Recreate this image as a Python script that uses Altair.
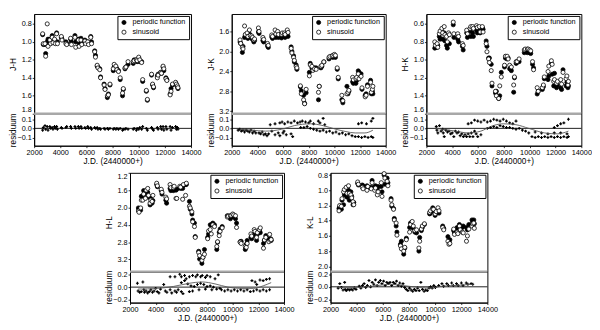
import altair as alt
import pandas as pd

# ---------------- data ----------------
jd = [2650, 2700, 2830, 2880, 3000, 3060, 3200, 3260, 3380, 3440,
      3560, 3620, 3720, 3780, 4080, 4130, 4430, 4490, 4790, 4850,
      5120, 5180, 5380, 5440, 5580, 5640, 5880, 5940, 6100, 6160,
      6330, 6390, 6630, 6690, 6820, 6880, 7020, 7080, 7350, 7420,
      7600, 7680, 7800, 8050, 8120, 8250, 8330, 8450, 8580, 8760,
      8820, 8950, 9020, 9180, 9580, 9650, 9820, 9880, 10000, 10080,
      10220, 10300, 10580, 10660, 10980, 11060, 11130, 11420, 11480, 11680,
      11740, 11860, 11920, 12080, 12150, 12400, 12470, 12580, 12820, 12880,
      12960, 13000]

jh_per = [0.92, 1.03, 1.03, 1.13, 1.00, 0.97, 0.97, 1.00, 0.93, 0.99,
          0.98, 1.00, 0.90, 1.00, 0.95, 0.97, 1.00, 1.02, 0.97, 1.00,
          0.93, 1.00, 0.97, 1.02, 0.96, 1.00, 0.98, 1.00, 1.00, 1.02,
          0.94, 1.00, 1.10, 1.15, 1.27, 1.28, 1.30, 1.39, 1.47, 1.52,
          1.62, 1.58, 1.48, 1.32, 1.28, 1.28, 1.30, 1.32, 1.42, 1.60,
          1.53, 1.30, 1.28, 1.25, 1.24, 1.20, 1.20, 1.22, 1.18, 1.22,
          1.22, 1.44, 1.55, 1.65, 1.37, 1.48, 1.51, 1.38, 1.36, 1.34,
          1.35, 1.28, 1.32, 1.40, 1.42, 1.58, 1.52, 1.48, 1.46, 1.48,
          1.50, 1.52]
jh_sin = [0.91, 1.02, 1.02, 1.16, 0.80, 1.05, 0.98, 1.02, 0.95, 1.01,
          0.97, 1.02, 0.91, 1.02, 0.94, 0.98, 1.02, 1.03, 0.96, 1.03,
          0.95, 1.06, 0.98, 1.05, 0.98, 1.03, 0.99, 1.02, 1.00, 1.03,
          0.95, 1.02, 1.11, 1.17, 1.26, 1.29, 1.31, 1.40, 1.48, 1.53,
          1.60, 1.59, 1.47, 1.30, 1.25, 1.27, 1.31, 1.33, 1.40, 1.57,
          1.52, 1.29, 1.28, 1.22, 1.22, 1.21, 1.20, 1.21, 1.17, 1.20,
          1.23, 1.42, 1.54, 1.64, 1.36, 1.47, 1.50, 1.40, 1.37, 1.34,
          1.35, 1.27, 1.30, 1.41, 1.43, 1.59, 1.55, 1.47, 1.45, 1.47,
          1.49, 1.51]

jk_per = [1.81, 1.84, 2.02, 1.90, 1.72, 1.68, 1.69, 1.74, 1.65, 1.70,
          1.73, 1.76, 1.81, 1.78, 1.61, 1.64, 1.78, 1.81, 1.89, 1.92,
          1.71, 1.74, 1.69, 1.72, 1.69, 1.72, 1.73, 1.70, 1.69, 1.72,
          1.67, 1.70, 1.91, 2.00, 2.09, 2.21, 2.27, 2.36, 2.71, 2.79,
          2.88, 3.04, 2.83, 2.42, 2.24, 2.33, 2.36, 2.33, 2.33, 2.97,
          2.70, 2.33, 2.30, 2.21, 2.15, 2.12, 2.10, 2.12, 2.09, 2.12,
          2.36, 2.55, 2.97, 3.03, 2.70, 2.85, 2.80, 2.61, 2.64, 2.64,
          2.58, 2.39, 2.42, 2.45, 2.76, 2.88, 2.85, 2.67, 2.58, 2.85,
          2.80, 2.85]
jk_sin = [1.77, 1.84, 1.92, 1.95, 1.49, 1.66, 1.63, 1.70, 1.57, 1.68,
          1.69, 1.72, 1.77, 1.75, 1.53, 1.60, 1.72, 1.76, 1.84, 1.88,
          1.67, 1.70, 1.57, 1.65, 1.60, 1.66, 1.66, 1.63, 1.63, 1.66,
          1.57, 1.62, 1.94, 2.03, 2.12, 2.18, 2.30, 2.33, 2.69, 2.85,
          2.97, 3.05, 2.76, 2.49, 2.27, 2.30, 2.38, 2.35, 2.36, 2.82,
          2.70, 2.30, 2.28, 2.21, 2.12, 2.10, 2.09, 2.08, 2.06, 2.08,
          2.33, 2.52, 2.88, 2.99, 2.85, 2.82, 2.78, 2.52, 2.57, 2.55,
          2.52, 2.45, 2.55, 2.50, 2.73, 2.91, 2.88, 2.70, 2.62, 2.82,
          2.76, 2.70]

hk_per = [0.87, 0.86, 0.86, 0.84, 0.74, 0.77, 0.69, 0.77, 0.70, 0.79,
          0.84, 0.87, 0.72, 0.82, 0.61, 0.75, 0.77, 0.80, 0.85, 0.89,
          0.70, 0.75, 0.68, 0.74, 0.70, 0.74, 0.67, 0.70, 0.68, 0.70,
          0.64, 0.66, 0.79, 0.85, 0.98, 0.98, 1.05, 1.29, 1.37, 1.35,
          1.43, 1.40, 1.14, 1.08, 0.98, 0.99, 0.98, 1.10, 1.12, 1.36,
          1.20, 1.04, 1.03, 1.02, 0.92, 0.90, 0.92, 0.90, 0.92, 0.93,
          1.05, 1.09, 1.38, 1.35, 1.33, 1.30, 1.21, 1.22, 1.18, 1.04,
          1.16, 1.29, 1.15, 1.31, 1.28, 1.31, 1.33, 1.11, 1.29, 1.25,
          1.31, 1.29]
hk_sin = [0.80, 0.84, 0.82, 0.86, 0.71, 0.68, 0.65, 0.70, 0.63, 0.72,
          0.74, 0.80, 0.70, 0.72, 0.58, 0.71, 0.71, 0.74, 0.82, 0.84,
          0.67, 0.71, 0.65, 0.63, 0.63, 0.65, 0.62, 0.64, 0.63, 0.69,
          0.63, 0.69, 0.82, 0.91, 0.99, 1.03, 1.12, 1.26, 1.35, 1.40,
          1.43, 1.29, 1.19, 1.06, 0.96, 0.96, 0.99, 1.06, 1.08, 1.28,
          1.19, 1.02, 1.02, 0.99, 0.89, 0.88, 0.88, 0.88, 0.89, 0.90,
          1.02, 1.11, 1.31, 1.35, 1.31, 1.28, 1.19, 1.13, 1.07, 1.01,
          1.05, 1.24, 1.22, 1.26, 1.24, 1.22, 1.27, 1.14, 1.21, 1.18,
          1.28, 1.24]

hl_per = [2.01, 2.04, 2.06, 1.74, 1.74, 1.61, 1.69, 1.69, 1.65, 1.76,
          1.94, 1.79, 1.90, 1.84, 1.47, 1.52, 1.61, 1.69, 1.83, 1.90,
          1.56, 1.61, 1.61, 1.58, 1.60, 1.58, 1.54, 1.56, 1.56, 1.49,
          1.47, 1.47, 1.86, 2.04, 2.15, 2.29, 2.36, 2.67, 3.01, 3.19,
          3.29, 3.15, 2.97, 2.69, 2.61, 2.40, 2.40, 2.36, 2.40, 2.97,
          2.80, 2.57, 2.50, 2.44, 2.19, 2.20, 2.26, 2.22, 2.19, 2.22,
          2.26, 2.36, 2.79, 2.78, 2.97, 2.85, 2.76, 2.69, 2.72, 2.61,
          2.65, 2.76, 2.62, 2.54, 2.58, 2.83, 2.76, 2.65, 2.72, 2.75,
          2.72, 2.76]
hl_sin = [2.08, 2.11, 2.01, 1.83, 1.83, 1.69, 1.79, 1.60, 1.56, 1.72,
          1.90, 1.83, 1.86, 1.72, 1.44, 1.50, 1.58, 1.65, 1.76, 1.80,
          1.47, 1.54, 1.54, 1.51, 1.79, 1.79, 1.51, 1.53, 1.81, 1.47,
          1.72, 1.44, 1.97, 2.01, 2.10, 2.33, 2.44, 2.69, 3.04, 3.11,
          3.22, 3.15, 3.08, 2.72, 2.54, 2.51, 2.61, 2.40, 2.44, 2.90,
          2.79, 2.65, 2.55, 2.47, 2.22, 2.20, 2.19, 2.18, 2.15, 2.17,
          2.19, 2.46, 2.80, 2.83, 2.90, 2.92, 2.83, 2.61, 2.66, 2.51,
          2.55, 2.69, 2.58, 2.51, 2.47, 2.94, 2.75, 2.69, 2.79, 2.62,
          2.76, 2.74]

kl_per = [1.24, 1.22, 1.25, 1.13, 1.19, 1.06, 1.02, 1.09, 1.00, 1.13,
          1.02, 1.08, 1.19, 1.16, 0.91, 0.93, 0.93, 0.94, 0.94, 0.97,
          0.96, 0.87, 0.96, 0.94, 0.98, 0.95, 0.95, 1.02, 0.80, 0.92,
          0.84, 0.90, 1.11, 1.21, 1.24, 1.37, 1.47, 1.55, 1.71, 1.67,
          1.84, 1.76, 1.63, 1.49, 1.43, 1.47, 1.50, 1.55, 1.56, 1.80,
          1.62, 1.53, 1.49, 1.45, 1.31, 1.30, 1.23, 1.27, 1.33, 1.30,
          1.27, 1.30, 1.47, 1.50, 1.61, 1.67, 1.65, 1.53, 1.56, 1.49,
          1.52, 1.45, 1.48, 1.49, 1.47, 1.49, 1.52, 1.45, 1.39, 1.42,
          1.39, 1.44]
kl_sin = [1.27, 1.20, 1.21, 1.11, 1.02, 0.99, 0.96, 1.04, 0.94, 1.04,
          1.06, 1.10, 1.15, 1.19, 0.89, 0.92, 0.96, 0.98, 1.00, 0.95,
          0.98, 0.90, 1.00, 0.97, 1.06, 1.02, 0.90, 1.08, 0.78, 0.84,
          0.88, 0.94, 1.13, 1.19, 1.25, 1.39, 1.43, 1.59, 1.73, 1.77,
          1.80, 1.75, 1.65, 1.55, 1.45, 1.41, 1.47, 1.53, 1.52, 1.76,
          1.67, 1.51, 1.47, 1.44, 1.29, 1.27, 1.25, 1.25, 1.31, 1.28,
          1.23, 1.27, 1.49, 1.52, 1.67, 1.71, 1.70, 1.51, 1.58, 1.55,
          1.57, 1.47, 1.52, 1.55, 1.56, 1.67, 1.60, 1.51, 1.47, 1.44,
          1.43, 1.50]

# residuals
jh_res = [-0.02, 0.01, 0.03, -0.01, 0.02, -0.02, 0.02, 0.00, 0.01, -0.01,
          0.02, 0.00, 0.02, -0.01, 0.01, 0.00, 0.01, 0.02, 0.02, 0.00,
          0.02, 0.00, 0.02, 0.00, 0.02, 0.00, 0.01, 0.00, 0.02, 0.00,
          0.01, -0.01, 0.01, 0.00, 0.01, -0.01, 0.00, -0.01, 0.00, -0.01,
          0.00, -0.01, 0.00, -0.01, 0.00, -0.01, 0.00, -0.01, 0.00, -0.02,
          -0.01, -0.01, 0.00, -0.01, -0.01, 0.00, -0.02, 0.00, -0.01, 0.01,
          -0.01, 0.02, 0.00, -0.02, 0.01, -0.01, -0.02, 0.01, -0.01, 0.02,
          -0.01, 0.02, -0.02, 0.02, -0.01, 0.02, -0.02, 0.01, 0.02, -0.01,
          0.01, -0.01]

jk_res_jd = [2500, 2625, 2750, 2875, 3000, 3125, 3250, 3375, 3500, 3625,
             3750, 3875, 4125, 4250, 4375, 4500, 4625, 4750, 4875, 5125,
             5375, 5625, 5750, 6000, 6075, 6250, 6625, 6750,
             5000, 5375, 5750, 5925, 6125, 6375, 6625, 6875, 7125, 7325,
             7500, 7750, 8000, 8125, 8375, 8750, 8875, 9125, 9250,
             7375, 7625, 7875, 8125, 8375, 8625, 8875, 9125, 9375, 9625,
             9875, 10125, 10375, 10625, 10875, 11125, 11375, 11625, 11875, 12125,
             12375, 12625, 12875, 13000,
             11875, 12125, 12500, 12875, 13000]
jk_res = [-0.02, -0.01, -0.03, -0.02, -0.04, -0.02, -0.03, -0.04, -0.02, -0.05,
          -0.03, -0.05, -0.05, -0.06, -0.04, -0.07, -0.06, -0.08, -0.06, -0.03,
          -0.07, -0.05, -0.08, -0.05, -0.03, -0.07, -0.06, -0.09,
          0.04, 0.05, 0.06, 0.07, 0.05, 0.07, 0.06, 0.08, 0.06, 0.07,
          0.08, 0.07, 0.06, 0.08, 0.05, 0.08, 0.06, 0.11, 0.04,
          0.01, 0.01, 0.02, 0.00, -0.01, -0.02, -0.03, -0.02, -0.04, -0.03,
          -0.05, -0.04, -0.06, -0.05, -0.07, -0.06, -0.08, -0.09, -0.09, -0.10,
          -0.09, -0.10, -0.09, -0.10,
          0.05, 0.06, 0.05, 0.08, 0.11]

hk_res_jd = [2765, 2814, 2889, 3012, 3136, 3259, 3308, 3383, 3506, 3630,
             3753, 3877, 4000, 4124, 4247, 4371, 4494, 4618, 4741, 4865,
             4988, 5112, 5235, 5359, 5482, 5606, 5729, 5853, 5976, 6223,
             5235, 5482, 5729, 5976, 6223, 6470, 6717, 6964, 7211, 7458,
             7705, 7952, 8199, 8446, 8693, 8940,
             6717, 6964, 7211, 7458, 7705, 7952, 8199, 8446, 8693, 8940,
             9187, 9434, 9681, 9928, 10175, 10422, 10669, 10916, 11163, 11410,
             11657, 11904, 12151, 12398, 12645, 12892, 13000,
             10422, 10916, 11410, 11904, 12398, 12892,
             11904, 12151, 12398, 12645, 13000]
hk_res = [0.02, -0.02, -0.05, 0.03, -0.03, -0.01, -0.05, -0.09, -0.02, -0.04,
          -0.03, -0.06, -0.05, -0.09, -0.03, -0.05, -0.04, -0.08, -0.06, -0.09,
          -0.07, -0.09, -0.06, -0.09, -0.05, -0.09, -0.03, -0.06, -0.09, -0.07,
          0.05, 0.06, 0.09, 0.08, 0.07, 0.09, 0.07, 0.08, 0.10, 0.09,
          0.08, 0.10, 0.08, 0.06, 0.05, 0.08,
          0.00, 0.01, 0.02, 0.01, 0.03, 0.02, 0.01, 0.01, 0.00, -0.01,
          0.00, -0.02, -0.03, -0.05, -0.09, -0.10, -0.09, -0.10, -0.09, -0.10,
          -0.09, -0.10, -0.09, -0.10, -0.09, -0.10, -0.09,
          -0.04, -0.05, -0.06, -0.05, -0.05, -0.06,
          0.01, 0.03, 0.05, 0.06, 0.10]

hl_res_jd = [2575, 2625, 2750, 2875, 3000, 3075, 3125, 3250, 3375, 3500,
             3625, 3750, 3875, 4000, 4125, 4250, 4375, 4625, 4750, 4875,
             5125, 5250, 5500, 5625, 5750, 6000, 6125,
             5125, 5500, 5875, 6000, 6250, 6375, 6625, 6875, 7125, 7250,
             7500, 7625, 7875, 8000, 8250, 8625, 8875,
             6000, 6250, 6500, 6750, 7000, 7250, 7500, 7750, 8000, 8250,
             8500, 8750, 9000, 9125, 9375, 9625, 9875, 10125, 10375, 10625,
             10875, 11125, 11375, 11625, 11875, 12125, 12375, 12625, 12875,
             6625, 6875, 7375, 7875, 8375,
             11500, 11750, 11875, 12125, 12375, 12625, 12875]
hl_res = [0.06, -0.06, -0.08, -0.07, 0.08, -0.04, -0.08, -0.06, -0.09, -0.07,
          -0.04, -0.08, -0.06, -0.02, -0.07, -0.09, -0.03, 0.04, -0.06, -0.08,
          -0.04, -0.09, -0.06, -0.08, -0.04, -0.07, -0.10,
          0.16, 0.16, 0.20, 0.16, 0.18, 0.13, 0.16, 0.18, 0.16, 0.19,
          0.16, 0.18, 0.15, 0.18, 0.16, 0.13, 0.19,
          0.07, 0.10, 0.05, 0.02, 0.01, 0.04, 0.06, 0.04, 0.01, 0.02,
          0.00, -0.03, -0.02, -0.04, -0.06, -0.04, -0.06, -0.04, -0.06, -0.04,
          -0.06, -0.04, -0.07, -0.06, -0.04, -0.06, -0.04, -0.06, -0.04,
          -0.07, -0.06, -0.04, -0.03, -0.04,
          0.10, 0.08, 0.04, 0.11, 0.10, 0.12, 0.13]

kl_res_jd = [2586, 2710, 2834, 2958, 3082, 3120, 3206, 3330, 3454, 3578,
             3702, 3826, 3950, 4198, 4322, 4446, 4570, 4694, 4818, 4942,
             5066, 5190, 5314, 5438, 5562, 5686, 5810, 5934, 6058, 6182,
             6306, 6430, 6554, 6678, 6802, 6926, 7050, 7174, 7298, 7422,
             7546, 7670, 7794, 7918, 8042, 8166, 8290, 8414, 8538, 8662,
             8786, 8910, 9034, 9158, 9282, 9406, 9530, 9654, 9778, 9902,
             10026, 10274, 10522, 10646, 10894, 11018, 11266, 11390, 11638, 11762,
             12010, 12134, 12382, 12506, 12754, 12878]
kl_res = [-0.02, 0.05, -0.01, -0.05, 0.07, -0.04, -0.06, -0.04, -0.05, -0.04,
          -0.05, -0.02, -0.04, 0.01, -0.02, 0.02, 0.05, -0.01, 0.02, 0.10,
          0.00, 0.07, 0.04, 0.11, 0.02, 0.07, 0.10, 0.05, 0.09, 0.02,
          0.07, 0.05, 0.07, 0.02, 0.07, 0.05, 0.09, 0.02, 0.06, 0.01,
          0.05, -0.01, -0.04, -0.06, -0.02, -0.05, -0.07, -0.04, -0.06, -0.02,
          -0.06, 0.07, -0.04, -0.07, -0.05, -0.06, -0.02, 0.00, -0.02, 0.02,
          -0.01, 0.02, 0.05, 0.01, 0.05, 0.02, 0.06, 0.02, 0.05, 0.02,
          0.06, 0.02, 0.06, 0.04, 0.05, 0.04]

# fitted residual curves
jk_curve_jd = [2625, 3600, 4625, 5875, 6875, 7500, 8125, 9125, 10125, 10900, 11625, 12375, 13000]
jk_curve = [-0.01, -0.02, -0.03, -0.01, 0.03, 0.045, 0.05, 0.03, -0.01, -0.035, -0.05, -0.05, -0.02]
hk_curve_jd = [2765, 4247, 5235, 6223, 6964, 7952, 8940, 9928, 11163, 12151, 13000]
hk_curve = [0.0, -0.03, -0.05, -0.03, 0.02, 0.05, 0.04, 0.0, -0.05, -0.06, -0.03]
hl_curve_jd = [2625, 4125, 5375, 6625, 7625, 8625, 9625, 10625, 11625, 12375, 13000]
hl_curve = [-0.03, -0.02, 0.01, 0.06, 0.08, 0.05, 0.0, -0.02, -0.02, 0.02, 0.07]
kl_curve_jd = [2586, 4074, 5562, 6554, 7546, 8786, 9778, 10522, 11514, 12878]
kl_curve = [-0.01, -0.01, 0.02, 0.04, 0.02, -0.01, -0.02, 0.01, 0.02, 0.04]

x_ticks = [2000, 4000, 6000, 8000, 10000, 12000, 14000]
series_names = ["periodic function", "sinusoid"]

FONT = "Liberation Sans"
XDOM = [2000, 14000]
TITLE_X = -17


def xscale():
    return alt.Scale(domain=XDOM, nice=False, zero=False)


def main_panel(per, sin, title, ydom, yticks, w, h):
    n = len(jd)
    df = pd.DataFrame({
        "jd": jd + jd,
        "v": per + sin,
        "series": [series_names[0]] * n + [series_names[1]] * n,
    })
    return alt.Chart(df).mark_point(
        shape="circle", size=18, stroke="black", strokeWidth=0.8, opacity=1
    ).encode(
        x=alt.X("jd:Q", scale=xscale(), axis=None),
        y=alt.Y("v:Q",
                scale=alt.Scale(domain=ydom, reverse=True, nice=False, zero=False),
                axis=alt.Axis(values=yticks, format=".1f", title=title,
                              titleX=TITLE_X, labelFlush=1)),
        fill=alt.Fill("series:N",
                      scale=alt.Scale(domain=series_names, range=["black", "white"]),
                      legend=alt.Legend(
                          title=None, orient="top-right", offset=2,
                          padding=3, strokeColor="black", fillColor="white",
                          labelFont=FONT, labelFontSize=7.5, labelColor="#000000",
                          symbolSize=18, symbolStrokeColor="black",
                          symbolStrokeWidth=0.8, symbolType="circle",
                          rowPadding=1, labelOffset=5, cornerRadius=0)),
    ).properties(width=w, height=h)


def resid_panel(rjd, rv, cjd, cv, ydom, yticks, w, h):
    ysc = alt.Scale(domain=ydom, nice=False, zero=False)
    yax = alt.Axis(values=yticks, format=".1f", title="residuum", titleX=TITLE_X)
    xax = alt.Axis(values=x_ticks, format="d", title="J.D. (2440000+)",
                   labelOverlap=False, labelFlush=False)
    pts = alt.Chart(pd.DataFrame({"jd": rjd, "r": rv})).mark_point(
        shape="cross", filled=True, size=9, color="black", opacity=1
    ).encode(
        x=alt.X("jd:Q", scale=xscale(), axis=xax),
        y=alt.Y("r:Q", scale=ysc, axis=yax),
    )
    zero = alt.Chart(pd.DataFrame({"z": [0.0]})).mark_rule(
        color="black", strokeWidth=0.9
    ).encode(y=alt.Y("z:Q", scale=ysc, axis=yax))
    sep = alt.Chart(pd.DataFrame({"z": [ydom[1]]})).mark_rule(
        color="#a8a8a8", strokeWidth=2.5
    ).encode(y=alt.Y("z:Q", scale=ysc, axis=yax))
    layers = [zero, pts]
    if cjd is not None:
        curve = alt.Chart(pd.DataFrame({"jd": cjd, "c": cv})).mark_line(
            color="#555555", strokeWidth=0.9, interpolate="monotone"
        ).encode(
            x=alt.X("jd:Q", scale=xscale(), axis=xax),
            y=alt.Y("c:Q", scale=ysc, axis=yax),
        )
        layers.append(curve)
    layers.append(sep)
    return alt.layer(*layers).properties(width=w, height=h)


def panel(main, resid):
    return alt.vconcat(main, resid, spacing=0, bounds="flush").resolve_scale(
        fill="independent")


H1, R1 = 103, 33
H2, R2 = 102, 32

p1 = panel(
    main_panel(jh_per, jh_sin, "J-H", [0.69, 1.8], [0.8, 1.0, 1.2, 1.4, 1.6, 1.8], 162, H1),
    resid_panel(jd, jh_res, None, None, [-0.19, 0.16], [-0.1, 0.0, 0.1], 162, R1))
p2 = panel(
    main_panel(jk_per, jk_sin, "J-K", [1.25, 3.25], [1.6, 2.0, 2.4, 2.8, 3.2], 159, H1),
    resid_panel(jk_res_jd, jk_res, jk_curve_jd, jk_curve, [-0.19, 0.16], [-0.1, 0.0, 0.1], 159, R1))
p3 = panel(
    main_panel(hk_per, hk_sin, "H-K", [0.49, 1.6], [0.6, 0.8, 1.0, 1.2, 1.4, 1.6], 160, H1),
    resid_panel(hk_res_jd, hk_res, hk_curve_jd, hk_curve, [-0.19, 0.16], [-0.1, 0.0, 0.1], 160, R1))
p4 = panel(
    main_panel(hl_per, hl_sin, "H-L", [1.2, 3.48], [1.2, 1.6, 2.0, 2.4, 2.8, 3.2], 159, H2),
    resid_panel(hl_res_jd, hl_res, hl_curve_jd, hl_curve, [-0.24, 0.24], [-0.2, 0.0, 0.2], 159, R2))
p5 = panel(
    main_panel(kl_per, kl_sin, "K-L", [0.77, 2.07], [0.8, 1.0, 1.2, 1.4, 1.6, 1.8, 2.0], 162, H2),
    resid_panel(kl_res_jd, kl_res, kl_curve_jd, kl_curve, [-0.25, 0.24], [-0.2, 0.0, 0.2], 162, R2))

# invisible spacer that shifts the lower row to the right
spacer = alt.Chart(pd.DataFrame({"a": [0]})).mark_point(opacity=0).encode(
    x=alt.X("a:Q", axis=None), y=alt.Y("a:Q", axis=None)
).properties(width=62, height=1, view=alt.ViewBackground(strokeOpacity=0))

row1 = alt.hconcat(p1, p2, p3, spacing=4).resolve_scale(fill="independent")
row2 = alt.hconcat(spacer, p4, p5, spacing=10).resolve_scale(fill="independent")

chart = alt.vconcat(row1, row2, spacing=3).resolve_scale(
    fill="independent"
).properties(
    padding={"left": 0, "top": 0, "right": 0, "bottom": 0},
    background="white",
).configure_view(
    stroke="black", strokeWidth=1
).configure_axis(
    grid=False, domainColor="black", tickColor="black", labelColor="black",
    titleColor="black", labelFont=FONT, titleFont=FONT, labelFontSize=7.5,
    titleFontSize=8.5, titleFontWeight="normal", tickSize=2, labelPadding=1,
    titlePadding=1, domainWidth=1, tickWidth=0.8,
).configure_axisX(
    labelFlush=False, labelOverlap=False,
)

chart.save("out.html", embed_options={"renderer": "svg", "actions": False})
